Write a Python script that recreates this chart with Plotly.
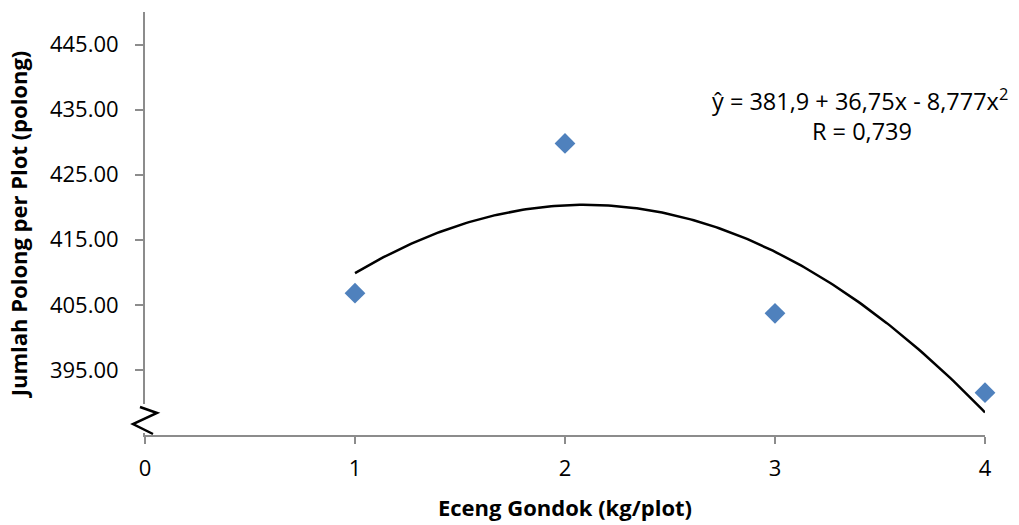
import plotly.graph_objects as go
import numpy as np

# Data
eceng_gondok = [1, 2, 3, 4]
jumlah_polong = [406.8, 429.8, 403.7, 391.5]
# Quadratic trendline coefficients (from chart equation): y = a + b x + c x^2
trend_coef = [381.9, 36.75, -8.777]
y_tickvals = [395, 405, 415, 425, 435, 445]
x_tickvals = [0, 1, 2, 3, 4]

FONT = "Open Sans"
W, H = 1019, 525
L, R, T, B = 145, 34, 12, 90
PW, PH = W - L - R, H - T - B

def px(x, y):
    return (x - L) / PW, (H - B - y) / PH

xs = np.linspace(min(eceng_gondok), max(eceng_gondok), 200)
ys = trend_coef[0] + trend_coef[1] * xs + trend_coef[2] * xs ** 2

fig = go.Figure()
fig.add_trace(go.Scatter(x=xs, y=ys, mode="lines",
                         line=dict(color="black", width=2.5),
                         hoverinfo="skip", showlegend=False))
fig.add_trace(go.Scatter(x=eceng_gondok, y=jumlah_polong, mode="markers",
                         marker=dict(symbol="diamond", size=16, color="#4F81BD",
                                     line=dict(width=0)),
                         cliponaxis=False, showlegend=False))

# axis break
x0, y0 = px(135, 404)
x1, y1 = px(160, 433)
fig.add_shape(type="rect", xref="paper", yref="paper", x0=x0, x1=x1, y0=y1, y1=y0,
              fillcolor="white", line=dict(width=0), layer="above")
pts = [px(140, 407), px(157, 413), px(133, 424), px(153, 434)]
path = "M " + " L ".join(f"{a},{b}" for a, b in pts)
fig.add_shape(type="path", xref="paper", yref="paper", path=path,
              line=dict(color="black", width=2.5), layer="above")

ax, ay = px(860, 100)
fig.add_annotation(xref="paper", yref="paper", x=ax, y=ay, showarrow=False,
                   text="ŷ = 381,9 + 36,75x - 8,777x<sup>2</sup>",
                   font=dict(family=FONT, size=23.5, color="black"),
                   xanchor="center", yanchor="middle")
bx, by = px(862, 131)
fig.add_annotation(xref="paper", yref="paper", x=bx, y=by, showarrow=False,
                   text="R = 0,739",
                   font=dict(family=FONT, size=23.5, color="black"),
                   xanchor="center", yanchor="middle")

fig.update_layout(
    width=W, height=H,
    margin=dict(l=L, r=R, t=T, b=B, autoexpand=False),
    paper_bgcolor="white", plot_bgcolor="white",
    font=dict(family=FONT, color="black"),
    xaxis=dict(range=[0, 4], tickvals=x_tickvals, showgrid=False, zeroline=False,
               showline=True, linecolor="#8c8c8c", linewidth=2,
               ticks="outside", ticklen=7, tickwidth=2, tickcolor="#8c8c8c",
               tickfont=dict(size=22, family=FONT), ticklabelstandoff=6,
               title=dict(text="<b>Eceng Gondok (kg/plot)</b>",
                          font=dict(size=22, family=FONT), standoff=19)),
    yaxis=dict(range=[385, 450], tickvals=y_tickvals, tickformat=".2f",
               showgrid=False, zeroline=False,
               showline=True, linecolor="#8c8c8c", linewidth=2,
               ticks="outside", ticklen=8, tickwidth=2, tickcolor="#8c8c8c",
               tickfont=dict(size=22, family=FONT), ticklabelstandoff=12,
               title=dict(text="<b>Jumlah Polong per Plot (polong)</b>",
                          font=dict(size=22, family=FONT), standoff=16)),
)

fig.write_html("out.html", config={"displayModeBar": False},
               post_script="document.body.style.margin='0';document.body.style.padding='0';")
